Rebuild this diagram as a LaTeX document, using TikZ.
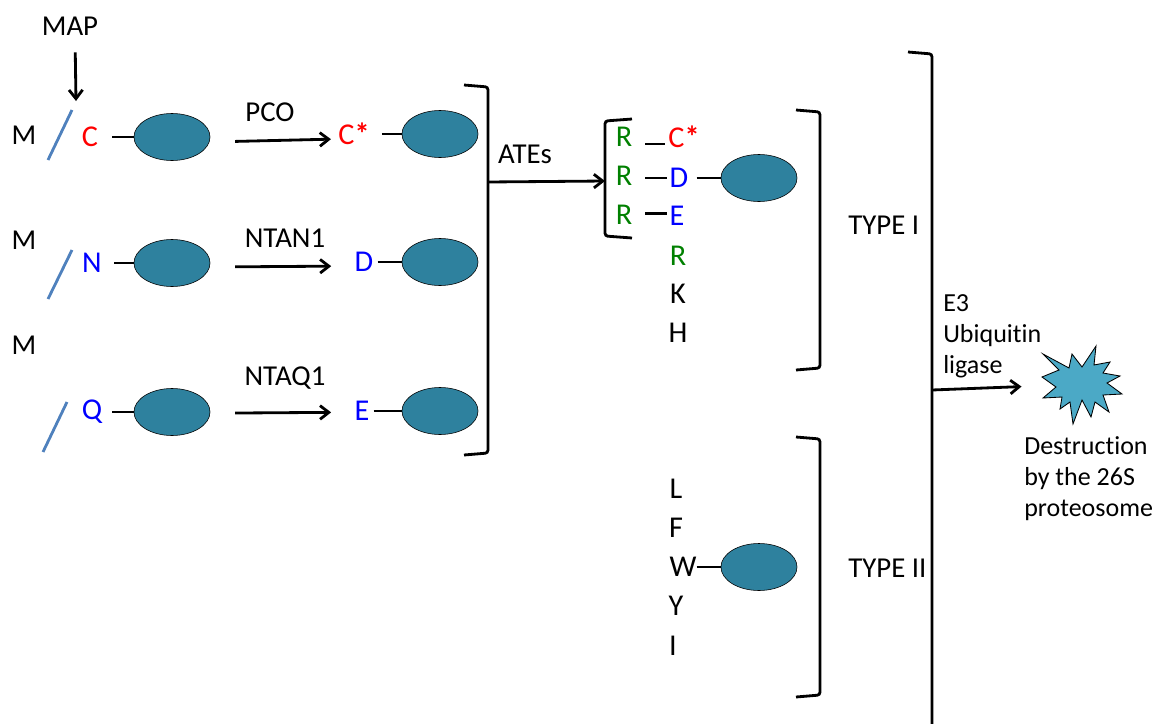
\documentclass[tikz,border=0pt]{standalone}
\usepackage{fontspec}
\setmainfont[Ligatures=NoCommon]{Carlito}
\usetikzlibrary{shapes.geometric, arrows.meta}
\definecolor{substrate}{HTML}{2E819E}
\definecolor{burst}{HTML}{4BA9C6}
\definecolor{cleave}{HTML}{4F81BD}
\definecolor{arggreen}{HTML}{008000}
\tikzstyle{arrow} = [line width=2pt,-{Straight Barb[length=2.2mm,width=3.4mm]}]
\tikzstyle{link} = [line width=2pt]
\tikzstyle{bracket} = [line width=2pt,rounded corners=2pt]
\tikzstyle{protein} = [draw,ellipse,fill=substrate,minimum width=1.9cm,minimum height=1.175cm,inner sep=0pt]
\tikzstyle{residue} = [inner sep=0pt,font=\fontsize{21.5}{26}\selectfont]
\tikzstyle{enzyme} = [inner sep=0pt,font=\fontsize{20.5}{25}\selectfont]
\tikzstyle{note} = [inner sep=0pt,anchor=west,align=left,font=\fontsize{18.5}{22}\selectfont]
\tikzstyle{cleavage} = [line width=2pt,cleave]
\begin{document}
\begin{tikzpicture}[x=0.025cm,y=-0.025cm]
	\useasboundingbox (0,0) rectangle (1152,724);
	% first column
	\node[enzyme] (map) at (70,26) {MAP};
	\node[enzyme] (m1) at (24,135) {M};
	\node[enzyme] (m2) at (24,240) {M};
	\node[enzyme] (m3) at (24,345) {M};
	\coordinate (s1a) at (72,110); \coordinate (s1b) at (48,160);
	\coordinate (s2a) at (72,250); \coordinate (s2b) at (48,299);
	\coordinate (s3a) at (67,402); \coordinate (s3b) at (43,452);
	\draw[cleavage] (s1a) -- (s1b);
	\draw[cleavage] (s2a) -- (s2b);
	\draw[cleavage] (s3a) -- (s3b);
	\coordinate (maptip) at (76,101);
	\draw[arrow,shorten <=0.42cm] ([xshift=0.125cm]map.south) -- (maptip);
	\node[residue,text=red] (c) at (90,137) {C};
	\node[residue,text=blue] (n) at (92,263) {N};
	\node[residue,text=blue] (q) at (92,412) {Q};
	\node[protein] (p1) at (172,137) {};
	\node[protein] (p2) at (172,263) {};
	\node[protein] (p3) at (172,412) {};
	\draw[link,shorten <=0.35cm] (c.east) -- (p1.west);
	\draw[link,shorten <=0.3cm] (n.east) -- (p2.west);
	\draw[link,shorten <=0.25cm] (q.east) -- (p3.west);
	% second column
	\node[residue,text=red] (cs) at (354,134) {C\textbf{*}};
	\node[residue,text=blue] (d) at (364,262) {D};
	\node[residue,text=blue] (e) at (362,411) {E};
	\node[protein] (p4) at (440,134) {};
	\node[protein] (p5) at (440,262) {};
	\node[protein] (p6) at (440,411) {};
	\draw[link,shorten <=0.3cm] (cs.east) -- (p4.west);
	\draw[link,shorten <=0.1cm] (d.east) -- (p5.west);
	\draw[link,shorten <=0.1cm] (e.east) -- (p6.west);
	\draw[arrow,shorten <=0.62cm,shorten >=0.18cm] ([yshift=-0.125cm]p1.east) -- ([yshift=-0.125cm]cs.west);
	\draw[arrow,shorten <=0.62cm,shorten >=0.58cm] ([yshift=-0.1cm]p2.east) -- ([yshift=-0.1cm]d.west);
	\draw[arrow,shorten <=0.62cm,shorten >=0.58cm] ([yshift=-0.03cm]p3.east) -- ([yshift=-0.03cm]e.west);
	\node[enzyme] (pco) at (270,112) {PCO};
	\node[enzyme] (ntan) at (285,238) {NTAN1};
	\node[enzyme] (ntaq) at (285,378) {NTAQ1};
	\draw[bracket] (464,85) -- (488,87) -- (488,453) -- (464,455);
	\node[enzyme] (ates) at (525,154) {ATEs};
	% third column
	\draw[bracket] (632,119) -- (605,121) -- (605,236) -- (632,238);
	\coordinate (bigout) at (488,182);
	\coordinate (smallin) at (605,181);
	\draw[arrow] (bigout) -- (smallin);
	\node[residue,text=arggreen] (r1) at (624,137) {R};
	\node[residue,text=arggreen] (r2) at (624,176) {R};
	\node[residue,text=arggreen] (r3) at (624,215) {R};
	\node[residue,text=red] (cs2) at (684,137) {C\textbf{*}};
	\node[residue,text=blue] (d2) at (679,178) {D};
	\node[residue,text=blue] (e2) at (677,216) {E};
	\node[residue,text=arggreen] (r4) at (678,256) {R};
	\node[residue] (k) at (678,294) {K};
	\node[residue] (h) at (678,333) {H};
	\node[protein] (p7) at (759,178) {};
	\draw[link,shorten <=0.32cm,shorten >=0.07cm] ([yshift=-0.175cm]r1.east) -- ([yshift=-0.175cm]cs2.west);
	\draw[link,shorten <=0.32cm,shorten >=0.07cm] (r2.east |- d2) -- (d2.west);
	\draw[link,shorten <=0.32cm,shorten >=0.07cm] ([yshift=0.07cm]r3.east |- e2) -- ([yshift=0.07cm]e2.west);
	\draw[link,shorten <=0.2cm] (d2.east) -- (p7.west);
	\draw[bracket] (796,110) -- (820,112) -- (820,368) -- (796,370);
	\node[enzyme,anchor=west] (type1) at (848,225) {TYPE I};
	\node[residue] (l) at (676,489) {L};
	\node[residue] (f) at (676,528) {F};
	\node[residue] (w) at (683,567) {W};
	\node[residue] (y) at (676,606) {Y};
	\node[residue] (i) at (673,646) {I};
	\node[protein] (p8) at (759,567) {};
	\draw[link] (w.east) -- (p8.west);
	\draw[bracket] (796,437) -- (820,439) -- (820,695) -- (796,697);
	\node[enzyme,anchor=west] (type2) at (848,568) {TYPE II};
	\draw[bracket] (908,52) -- (932,54) -- (932,730);
	% ligase and proteasome
	\node[note] (ligase) at (943,336) {E3\\Ubiquitin\\ligase};
	\draw[fill=burst,line width=0.6pt,line join=miter] (1043,354) -- (1069,368) -- (1072,354) -- (1082,367) -- (1096,346) -- (1094,365) -- (1110,362) -- (1103,373) -- (1120,376) -- (1107,383) -- (1122,394) -- (1103,395) -- (1109,412) -- (1095,402) -- (1091,417) -- (1082,400) -- (1073,424) -- (1070,402) -- (1060,409) -- (1062,397) -- (1043,398) -- (1056,387) -- (1042,377) -- (1059,370) -- cycle;
	\node[inner sep=0pt,minimum width=2.2cm] (star) at (1081,386) {};
	\coordinate (barout) at (932,390);
	\draw[arrow,shorten >=0.38cm] (barout) -- (star.west);
	\node[note] (fate) at (1024,478.5) {Destruction\\by the 26S\\proteosome};
\end{tikzpicture}
\end{document}
